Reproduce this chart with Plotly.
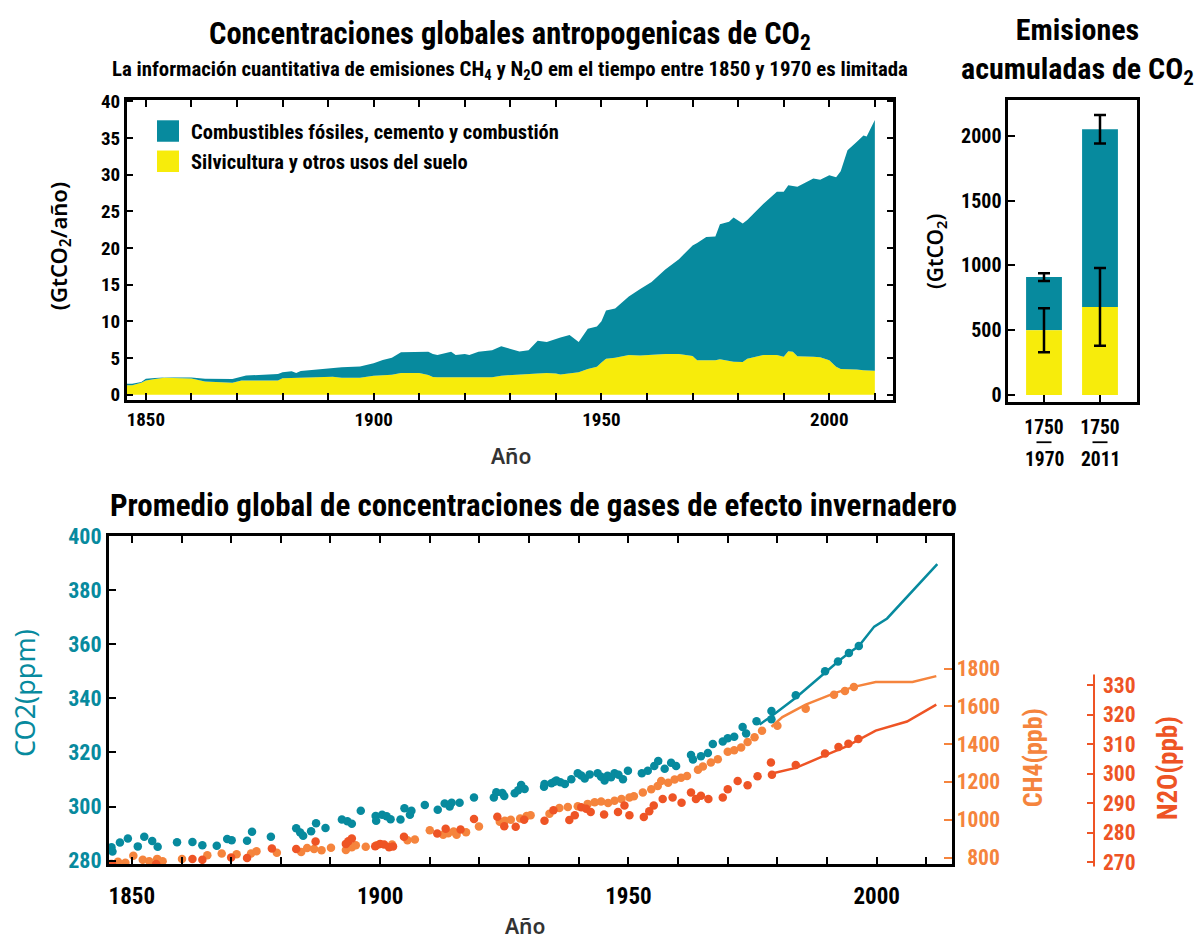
import plotly.graph_objects as go

W, H = 1203, 942

# ---------------- Emisiones anuales de CO2 (GtCO2/año) ----------------
years = [1845.5, 1847, 1849, 1850, 1852, 1854, 1860, 1861, 1863, 1869, 1871, 1872,
         1879, 1880, 1882, 1883, 1884, 1890, 1891, 1893, 1897, 1900, 1902, 1904,
         1906, 1908, 1910, 1912, 1913, 1914, 1917, 1918, 1920, 1921, 1923, 1926,
         1928, 1930, 1932, 1934, 1936, 1938, 1940, 1941, 1943, 1945, 1947, 1949,
         1950, 1951, 1953, 1956, 1958.5, 1961, 1964, 1967, 1970, 1971, 1973, 1975,
         1976, 1978, 1979, 1981, 1982, 1985.5, 1988.5, 1990, 1991, 1992, 1993,
         1996.5, 1998, 2000, 2001.5, 2002.5, 2004, 2006, 2007.5, 2008.2, 2010]
forestry = [1.28, 1.28, 1.62, 1.95, 2.15, 2.30, 2.20, 2.05, 1.80, 1.64, 1.92, 1.95,
            1.95, 2.25, 2.30, 2.30, 2.30, 2.50, 2.45, 2.30, 2.30, 2.60, 2.65, 2.71,
            2.95, 2.97, 2.97, 2.70, 2.40, 2.39, 2.39, 2.39, 2.39, 2.39, 2.39, 2.39,
            2.60, 2.70, 2.75, 2.85, 2.90, 2.97, 2.90, 2.75, 2.95, 3.06, 3.50, 3.80,
            4.40, 4.90, 5.05, 5.40, 5.35, 5.45, 5.54, 5.54, 5.27, 4.70, 4.65, 4.70,
            4.83, 4.60, 4.50, 4.47, 4.90, 5.40, 5.40, 5.18, 5.93, 5.84, 5.25,
            5.18, 5.10, 4.70, 3.80, 3.50, 3.50, 3.45, 3.32, 3.30, 3.27]
fossil = [0.22, 0.22, 0.11, 0.22, 0.13, 0.04, 0.14, 0.21, 0.37, 0.49, 0.48, 0.66,
          0.88, 0.80, 0.89, 0.67, 0.93, 1.09, 1.23, 1.45, 1.56, 1.70, 2.09, 2.34,
          2.85, 2.88, 2.88, 3.15, 3.15, 3.01, 3.46, 3.01, 3.15, 3.01, 3.46, 3.68,
          4.00, 3.59, 3.15, 3.22, 4.45, 4.21, 4.75, 5.05, 5.20, 4.12, 5.50, 5.50,
          5.60, 6.58, 6.69, 7.98, 9.05, 9.92, 11.52, 12.94, 15.08, 15.99, 16.84, 16.88,
          18.39, 18.98, 19.65, 18.88, 18.90, 20.61, 22.26, 22.48, 22.61, 22.66, 23.11,
          24.29, 24.20, 25.22, 25.85, 26.95, 29.83, 30.99, 32.00, 31.90, 34.18]

# ---------------- Emisiones acumuladas (GtCO2) ----------------
period_start = ["1750", "1750"]
period_end = ["1970", "2011"]
period_pos = [0, 1]
cum_forestry = [500, 680]
cum_forestry_err = [170, 300]
cum_fossil = [410, 1370]
cum_total_err = [30, 110]

# ---------------- Concentraciones atmosféricas ----------------
co2_year = [1845.9, 1846.1, 1847.6, 1849.2, 1851.2, 1852.5, 1854.1, 1855.2, 1859.1,
            1862.2, 1864.2, 1867.1, 1869.2, 1870.1, 1873.2, 1874.2, 1878.0, 1883.1,
            1883.9, 1884.5, 1886.1, 1887.1, 1889.0, 1892.3, 1893.4, 1894.3, 1896.1,
            1899.1, 1899.2, 1900.4, 1901.3, 1902.1, 1904.1, 1904.9, 1906.0, 1906.3,
            1909.0, 1911.6, 1913.0, 1914.0, 1914.4, 1916.0, 1918.9, 1922.9, 1923.4,
            1924.6, 1925.0, 1927.1, 1927.8, 1928.4, 1929.1, 1933.0, 1933.1, 1934.5,
            1935.1, 1935.5, 1936.3, 1937.2, 1938.5, 1939.8, 1940.5, 1941.2, 1942.2,
            1943.8, 1944.5, 1945.2, 1945.8, 1946.5, 1947.2, 1948.0, 1948.9, 1949.9,
            1952.7, 1953.9, 1955.2, 1956.0, 1957.3, 1958.6, 1959.6, 1962.6, 1963.0,
            1964.6, 1966.0, 1967.0, 1969.0, 1970.0, 1971.3, 1973.0, 1973.7, 1975.8,
            1978.8, 1978.8, 1983.7, 1989.6, 1992.2, 1994.4, 1996.4]
co2_ppm = [285.0, 283.4, 286.7, 288.2, 285.3, 288.9, 287.3, 285.2, 286.8,
           286.9, 285.7, 285.5, 288.0, 287.6, 287.4, 290.7, 288.9, 292.0,
           290.4, 289.2, 290.9, 293.8, 292.1, 295.2, 294.6, 293.7, 298.5,
           296.5, 294.8, 297.0, 296.4, 295.3, 295.2, 299.4, 297.0, 298.5,
           300.6, 298.8, 301.1, 300.0, 301.4, 301.4, 303.4, 303.4, 305.3,
           305.0, 303.9, 304.9, 306.0, 308.0, 306.5, 307.3, 308.3, 308.6,
           309.2, 309.6, 309.0, 308.3, 310.1, 312.3, 311.5, 310.4, 311.9,
           312.3, 311.0, 309.6, 311.4, 310.8, 312.3, 311.8, 310.1, 313.2,
           312.3, 313.2, 315.0, 316.8, 314.0, 316.2, 315.0, 319.1, 317.4,
           318.6, 319.8, 323.1, 324.0, 325.2, 325.8, 329.4, 327.0, 331.5,
           335.3, 332.3, 341.1, 350.0, 353.6, 356.7, 359.3]
co2_line_year = [1976.4, 1978.8, 1983.7, 1989.6, 1992.4, 1994.4, 1996.4, 1999.5, 2002.1, 2012.2]
co2_line_ppm = [330.3, 333.4, 340.2, 349.7, 353.9, 356.7, 359.3, 366.5, 369.5, 389.6]

ch4_year = [1845.7, 1847.2, 1848.7, 1850.3, 1852.2, 1853.5, 1855.1, 1856.2, 1860.1,
            1865.2, 1868.1, 1871.1, 1874.0, 1875.1, 1879.2, 1884.1, 1885.3, 1886.7,
            1888.2, 1890.1, 1893.1, 1894.3, 1895.1, 1897.1, 1899.3, 1902.4, 1905.5,
            1907.0, 1910.0, 1912.7, 1913.7, 1914.8, 1915.4, 1917.3, 1919.9, 1924.1,
            1925.1, 1926.3, 1928.2, 1929.5, 1930.3, 1934.1, 1936.1, 1937.8, 1939.8,
            1941.8, 1943.2, 1944.5, 1945.9, 1947.2, 1948.6, 1950.2, 1951.1, 1952.9,
            1954.6, 1955.9, 1956.6, 1958.0, 1959.3, 1960.6, 1961.8, 1964.0, 1965.0,
            1966.6, 1968.0, 1970.0, 1971.3, 1972.7, 1974.0, 1975.4, 1976.9, 1980.0,
            1985.7, 1991.4, 1993.6, 1995.4]
ch4_ppb = [766, 778, 773, 810, 788, 781, 793, 781, 792,
           812, 821, 817, 821, 833, 826, 829, 850, 845,
           838, 852, 840, 855, 865, 857, 865, 869, 891,
           895, 945, 921, 929, 938, 921, 934, 964, 989,
           995, 1000, 1006, 1020, 1024, 1032, 1062, 1067, 1072,
           1084, 1093, 1096, 1089, 1101, 1110, 1118, 1124, 1144,
           1161, 1179, 1205, 1196, 1213, 1222, 1231, 1265, 1282,
           1303, 1320, 1360, 1368, 1382, 1411, 1437, 1471, 1497,
           1588, 1661, 1681, 1703]
ch4_line_year = [1978.8, 1981.0, 1985.7, 1991.4, 1995.4, 1999.8, 2007.2, 2012.0]
ch4_line_ppb = [1492, 1543, 1609, 1669, 1703, 1729, 1729, 1760]

n2o_year = [1846.0, 1854.9, 1862.2, 1864.2, 1870.0, 1873.2, 1878.2, 1883.1, 1887.0,
            1893.1, 1893.6, 1894.3, 1899.0, 1900.0, 1900.8, 1901.8, 1902.6, 1904.8,
            1911.5, 1913.2, 1916.2, 1918.9, 1923.6, 1925.0, 1927.3, 1929.0, 1933.1,
            1934.9, 1938.1, 1939.2, 1940.5, 1941.5, 1942.4, 1945.1, 1947.9, 1949.2,
            1950.2, 1953.1, 1954.2, 1955.1, 1956.9, 1958.9, 1960.7, 1962.6, 1963.6,
            1964.6, 1966.1, 1969.0, 1970.0, 1972.0, 1974.0, 1976.0, 1978.7, 1978.9,
            1983.7, 1989.6, 1992.3, 1994.3, 1996.3]
n2o_ppb = [269.5, 269.5, 271.2, 270.9, 271.7, 271.5, 274.7, 274.6, 277.1,
           276.3, 277.2, 278.1, 275.5, 276.3, 276.1, 275.2, 275.4, 278.7,
           279.8, 281.4, 281.2, 284.7, 285.5, 282.3, 282.1, 284.5, 284.1,
           287.7, 284.4, 286.0, 288.7, 288.2, 287.1, 286.2, 287.1, 289.3,
           286.0, 285.4, 287.3, 289.3, 291.5, 292.0, 290.2, 293.7, 291.5,
           292.6, 291.5, 292.0, 294.8, 297.6, 296.1, 299.2, 303.8, 299.7,
           303.0, 306.9, 309.1, 310.2, 311.8]
n2o_line_year = [1978.9, 1983.7, 1989.7, 1993.7, 1999.8, 2006.1, 2012.0]
n2o_line_ppb = [300.1, 302.0, 306.3, 309.1, 314.6, 317.7, 323.4]

TEAL = "#078a9e"
YELLOW = "#f7ec0b"
CH4_C = "#f5843d"
N2O_C = "#ee5425"
FONT = "Noto Sans Condensed, Roboto Condensed, Liberation Sans Narrow, Roboto, sans-serif"
FONT_WIDE = "Noto Sans, Open Sans, sans-serif"


def fx(x):
    return x / W


def fy(y):
    return 1 - y / H


# subplot frames (paper fractions)
TOP_X, TOP_Y = [fx(126.7), fx(893.3)], [fy(397.7), fy(90)]
BAR_X, BAR_Y = [fx(1008.3), fx(1137.3)], [fy(400), fy(90.7)]
BOT_X, BOT_Y = [fx(109), fx(951.7)], [fy(873.3), fy(537)]
BAR_RANGE = [-0.6375, 1.666]

fig = go.Figure()

# annual emissions, stacked areas
fig.add_trace(go.Scatter(x=years, y=forestry, stackgroup="em", mode="lines",
                         line=dict(width=0, color=YELLOW), fillcolor=YELLOW,
                         xaxis="x", yaxis="y", showlegend=False, hoverinfo="skip"))
fig.add_trace(go.Scatter(x=years, y=fossil, stackgroup="em", mode="lines",
                         line=dict(width=0, color=TEAL), fillcolor=TEAL,
                         xaxis="x", yaxis="y", showlegend=False, hoverinfo="skip"))

# cumulative emissions bars
fig.add_trace(go.Bar(x=period_pos, y=cum_fossil, base=cum_forestry, width=0.64,
                     marker=dict(color=TEAL, line=dict(width=0)),
                     error_y=dict(type="data", array=cum_total_err, color="black",
                                  thickness=2.5, width=6),
                     xaxis="x2", yaxis="y2", showlegend=False))
fig.add_trace(go.Bar(x=period_pos, y=cum_forestry, width=0.64,
                     marker=dict(color=YELLOW, line=dict(width=0)),
                     error_y=dict(type="data", array=cum_forestry_err, color="black",
                                  thickness=2.5, width=6),
                     xaxis="x2", yaxis="y2", showlegend=False))

# concentrations
MS = 8.5
fig.add_trace(go.Scatter(x=co2_line_year, y=co2_line_ppm, mode="lines",
                         line=dict(color=TEAL, width=2.5), xaxis="x3", yaxis="y3", showlegend=False))
fig.add_trace(go.Scatter(x=co2_year, y=co2_ppm, mode="markers",
                         marker=dict(color=TEAL, size=MS), xaxis="x3", yaxis="y3", showlegend=False))
fig.add_trace(go.Scatter(x=ch4_line_year, y=ch4_line_ppb, mode="lines",
                         line=dict(color=CH4_C, width=2.5), xaxis="x3", yaxis="y4", showlegend=False))
fig.add_trace(go.Scatter(x=ch4_year, y=ch4_ppb, mode="markers",
                         marker=dict(color=CH4_C, size=MS), xaxis="x3", yaxis="y4", showlegend=False))
fig.add_trace(go.Scatter(x=n2o_line_year, y=n2o_line_ppb, mode="lines",
                         line=dict(color=N2O_C, width=2.5), xaxis="x3", yaxis="y5", showlegend=False))
fig.add_trace(go.Scatter(x=n2o_year, y=n2o_ppb, mode="markers",
                         marker=dict(color=N2O_C, size=MS), xaxis="x3", yaxis="y5", showlegend=False))

box = dict(showline=True, linecolor="black", showgrid=False, zeroline=False,
           ticks="inside", tickcolor="black", tickwidth=2)
year_ticks = dict(tickmode="linear", tick0=1850, dtick=50,
                  minor=dict(dtick=10, tick0=1850, ticks="inside", ticklen=7,
                             tickwidth=2, tickcolor="black", showgrid=False))

fig.update_layout(
    width=W, height=H, margin=dict(l=0, r=0, t=0, b=0),
    paper_bgcolor="white", plot_bgcolor="white",
    font=dict(family=FONT, color="black"),
    barmode="overlay",
    xaxis=dict(**box, **year_ticks, domain=TOP_X, range=[1845.8, 2014.05],
               anchor="y", mirror="ticks", linewidth=2.5, ticklen=7,
               tickfont=dict(size=19, weight="bold")),
    yaxis=dict(**box, domain=TOP_Y, range=[-0.72, 40.2],
               anchor="x", mirror="ticks", linewidth=2.5, ticklen=7,
               tickmode="linear", tick0=0, dtick=5,
               tickfont=dict(size=19, weight="bold")),
    xaxis2=dict(**box, domain=BAR_X, range=BAR_RANGE,
                anchor="y2", mirror=True, linewidth=2.5, ticklen=7,
                tickmode="array", tickvals=period_pos, ticktext=period_start,
                ticklabelstandoff=6,
                tickfont=dict(size=19.5, weight="bold")),
    yaxis2=dict(**box, domain=BAR_Y, range=[-55, 2271],
                anchor="x2", mirror=True, linewidth=2.5, ticklen=7,
                tickmode="linear", tick0=0, dtick=500,
                tickfont=dict(size=20, weight="bold")),
    xaxis3=dict(**box, **year_ticks, domain=BOT_X, range=[1845.4, 2015.1],
                anchor="y3", mirror="ticks", linewidth=3, ticklen=7,
                ticklabelstandoff=9,
                tickfont=dict(size=23, weight="bold")),
    yaxis3=dict(**box, domain=BOT_Y, range=[278.8, 400],
                anchor="x3", mirror=True, linewidth=3, ticklen=7,
                tickmode="linear", tick0=280, dtick=20,
                tickfont=dict(size=22, weight="bold", color=TEAL)),
    yaxis4=dict(overlaying="y3", side="right", anchor="x3", range=[766, 2502],
                showline=False, showgrid=False, zeroline=False,
                ticks="inside", ticklen=8, tickwidth=2, tickcolor=CH4_C,
                tickmode="array", tickvals=[800, 1000, 1200, 1400, 1600, 1800],
                ticktext=["\u2007800", "1000", "1200", "1400", "1600", "1800"],
                ticklabelstandoff=4,
                tickfont=dict(size=21.5, weight="bold", color=CH4_C)),
    yaxis5=dict(overlaying="y3", side="right", anchor="free", position=fx(1094),
                range=[269.5, 380.5],
                showline=False, showgrid=False, zeroline=False,
                ticks="inside", ticklen=7, tickwidth=2, tickcolor=N2O_C,
                tickmode="array", tickvals=list(range(270, 331, 10)),
                ticklabelstandoff=8,
                tickfont=dict(size=21.5, weight="bold", color=N2O_C)),
)

shapes = [
    # N2O axis line
    dict(type="line", xref="paper", yref="paper", x0=fx(1094), x1=fx(1094),
         y0=fy(876), y1=fy(679), line=dict(color=N2O_C, width=2)),
    # legend swatches
    dict(type="rect", xref="paper", yref="paper", x0=fx(157), x1=fx(179),
         y0=fy(133), y1=fy(111), fillcolor=TEAL, line=dict(width=0)),
    dict(type="rect", xref="paper", yref="paper", x0=fx(157), x1=fx(179),
         y0=fy(164), y1=fy(142), fillcolor=YELLOW, line=dict(width=0)),
]


def bar_paper_x(pos):
    frac = (pos - BAR_RANGE[0]) / (BAR_RANGE[1] - BAR_RANGE[0])
    return BAR_X[0] + frac * (BAR_X[1] - BAR_X[0])


# dash separating the start and end year of each period
for pos in period_pos:
    cx = bar_paper_x(pos)
    shapes.append(dict(type="line", xref="paper", yref="paper",
                       x0=cx - fx(7.5), x1=cx + fx(7.5), y0=fy(441), y1=fy(441),
                       line=dict(color="black", width=1.8)))
fig.update_layout(shapes=shapes)


def note(text, x, y, size, color="black", weight="bold", angle=0, xanchor="center",
         yanchor="middle", family=FONT, xref="paper"):
    fig.add_annotation(text=text, x=x if xref != "paper" else fx(x), y=fy(y),
                       xref=xref, yref="paper",
                       showarrow=False, textangle=angle, xanchor=xanchor, yanchor=yanchor,
                       font=dict(size=size, color=color, family=family, weight=weight))


note("Concentraciones globales antropogenicas de CO<sub>2</sub>", 510, 24, 30.5)
note("La información cuantitativa de emisiones CH<sub>4</sub> y N<sub>2</sub>O em el tiempo "
     "entre 1850 y 1970 es limitada", 510, 60, 20.8)
note("Emisiones<br>acumuladas de CO<sub>2</sub>", 1077, 40, 30)
note("Combustibles fósiles, cemento y combustión", 189, 123, 20.5, xanchor="left")
note("Silvicultura y otros usos del suelo", 189, 154, 20.5, xanchor="left")
note("(GtCO<sub>2</sub>/año)", 60, 240, 22, angle=-90, weight=600, family=FONT_WIDE)
note("Año", 511, 455, 21, color="#333333", weight=600, family=FONT_WIDE)
note("(GtCO<sub>2</sub>)", 936, 245, 21, angle=-90, weight=600, family=FONT_WIDE)
note("Promedio global de concentraciones de gases de efecto invernadero", 533, 506, 31)
note("CO2(ppm)", 25, 698, 27, color=TEAL, weight="normal", angle=-90, family=FONT_WIDE)
note("CH4(ppb)", 1033, 765, 26, color=CH4_C, angle=-90)
note("N2O(ppb)", 1168, 775, 27, color=N2O_C, angle=-90)
note("Año", 525, 937, 21, color="#333333", weight=600, family=FONT_WIDE)

# end year of each cumulative period, beneath the start-year tick label
for pos, end in zip(period_pos, period_end):
    note(end, pos, 459, 19.5, xref="x2")

fig.write_html("out.html")
